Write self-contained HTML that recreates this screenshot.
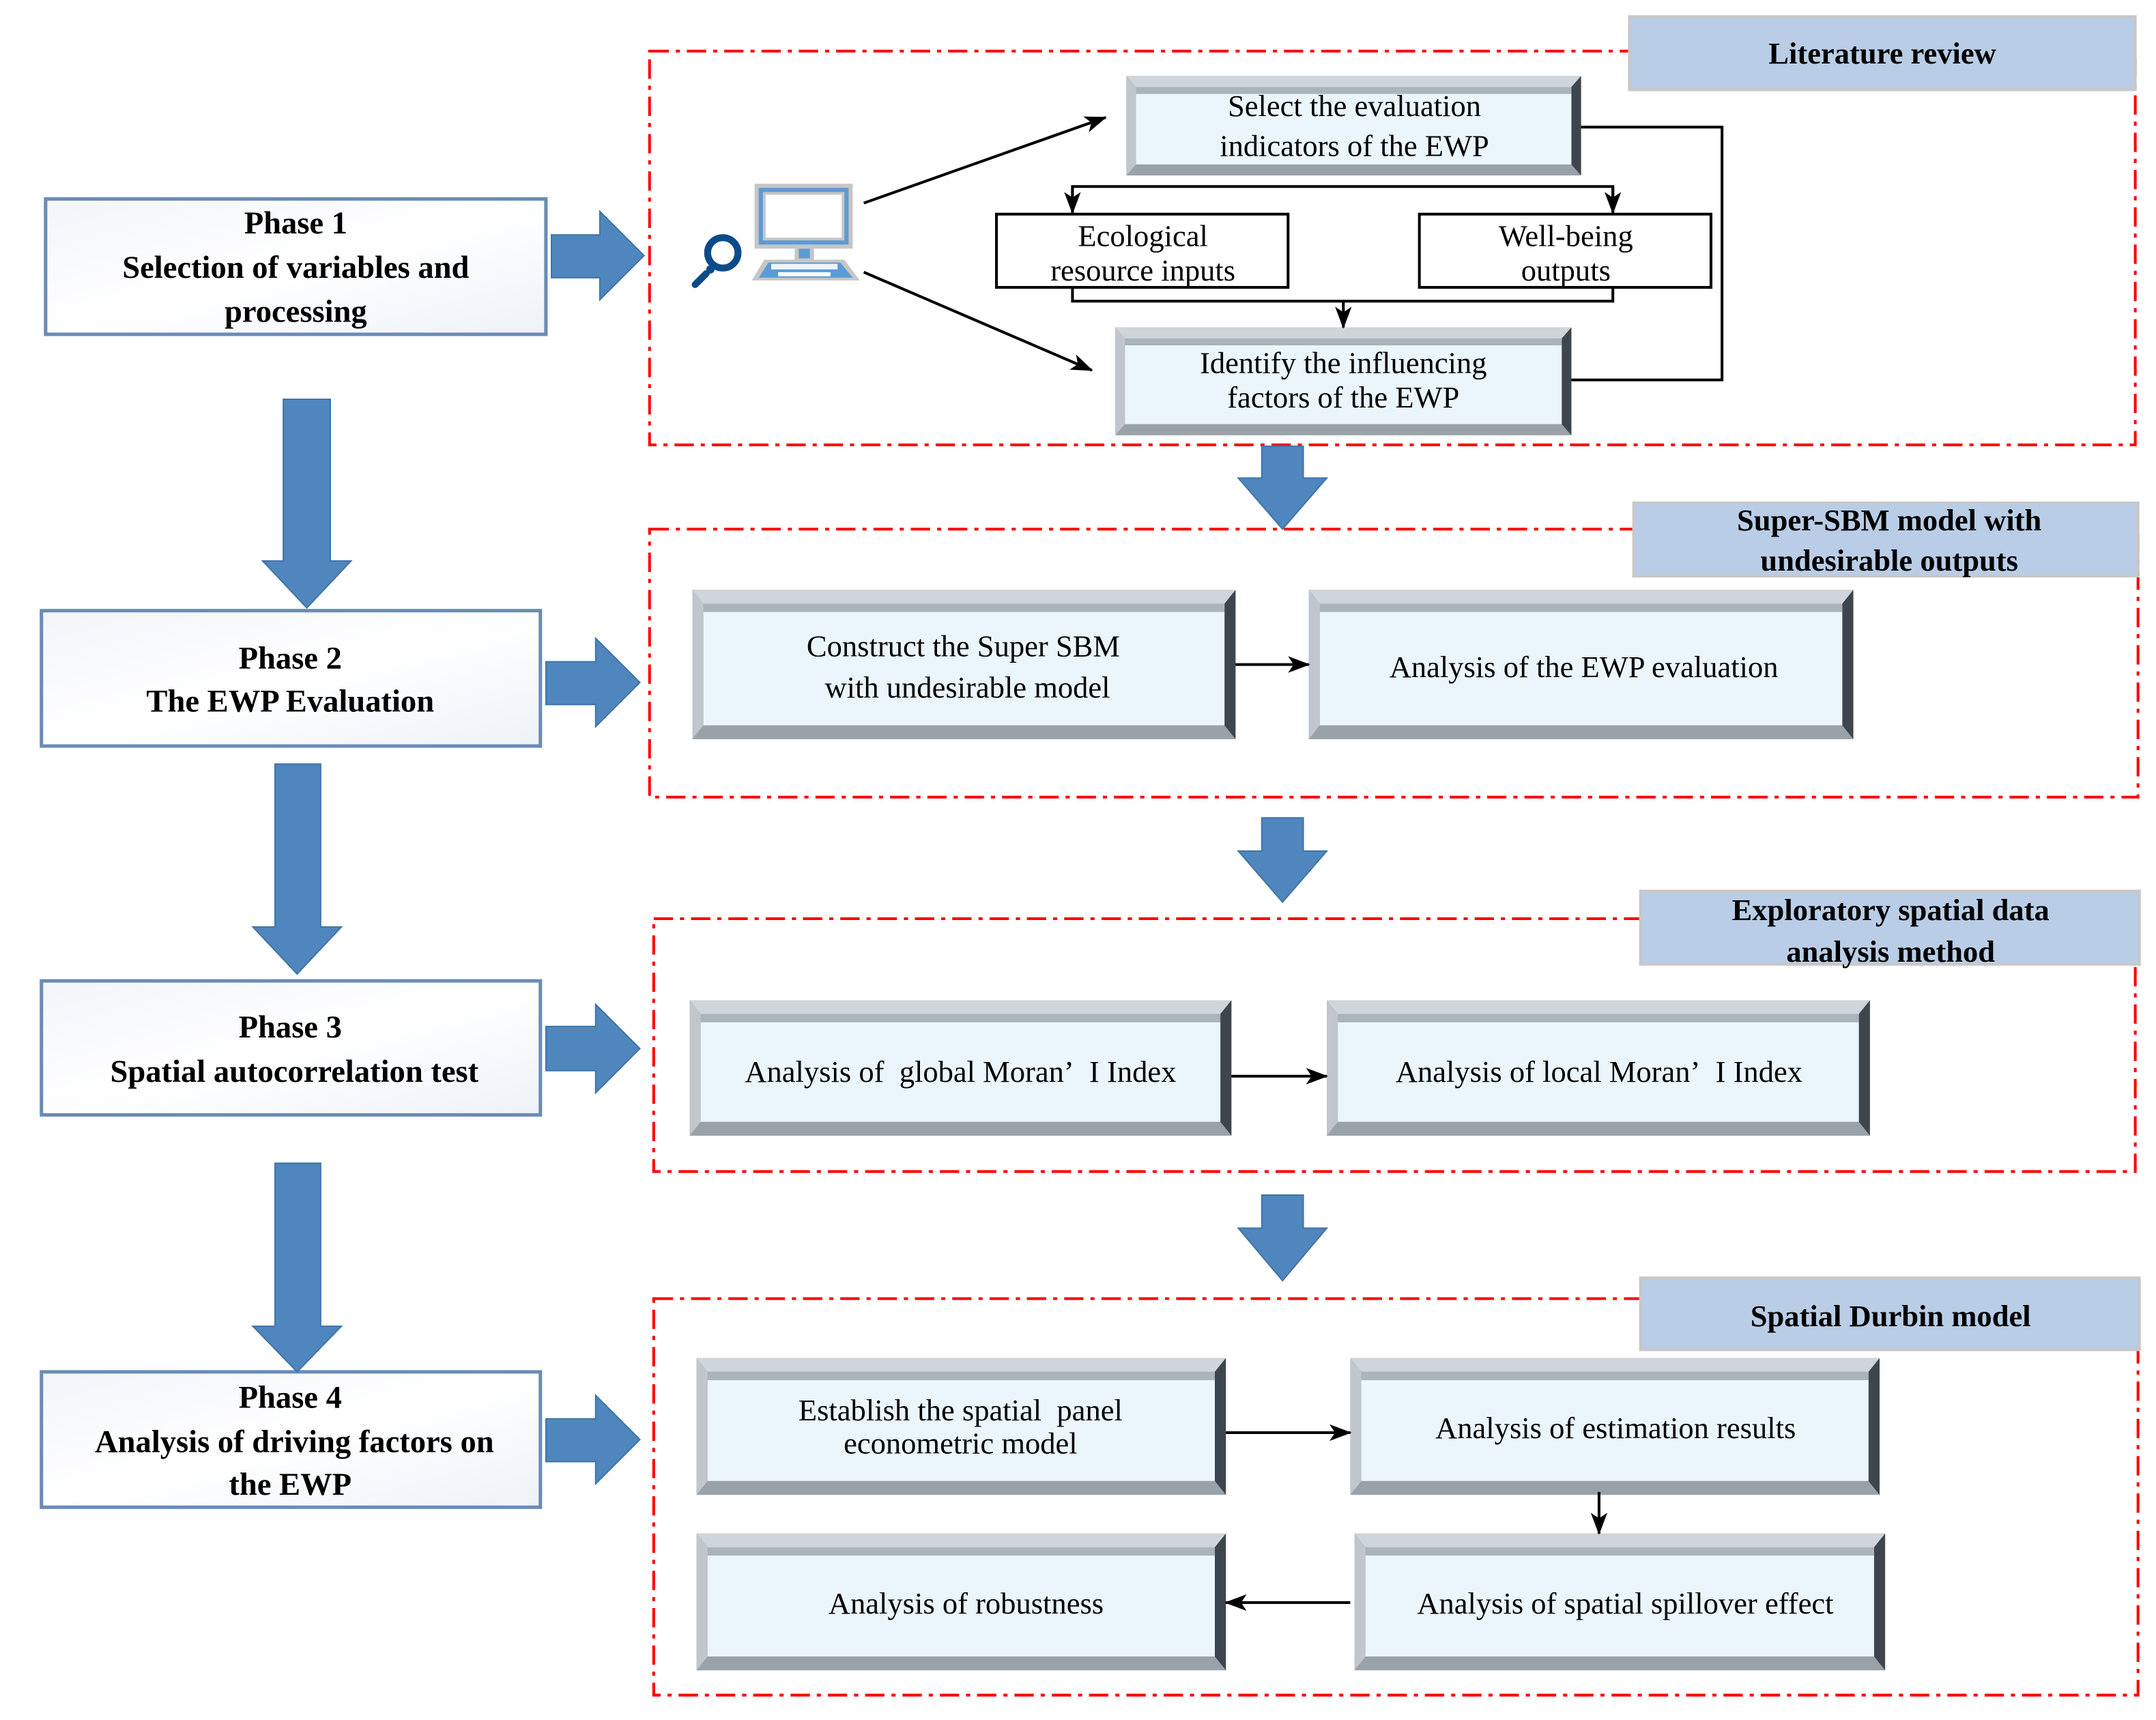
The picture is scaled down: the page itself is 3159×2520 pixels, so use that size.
<!DOCTYPE html>
<html><head><meta charset="utf-8"><style>
html,body{margin:0;padding:0;background:#fff;}
svg{display:block;}
text{font-family:"Liberation Serif",serif;fill:#000;}
.b{font-weight:bold;}
</style></head><body>
<svg width="3159" height="2520" viewBox="0 0 1560 1245" preserveAspectRatio="none" xmlns="http://www.w3.org/2000/svg">
<defs>
<linearGradient id="ph" x1="0" y1="0" x2="1" y2="1"><stop offset="0" stop-color="#f3f5f9"/><stop offset="0.5" stop-color="#ffffff"/><stop offset="1" stop-color="#eef2f8"/></linearGradient>
<marker id="ar" markerWidth="10" markerHeight="10" refX="9" refY="5" orient="auto" markerUnits="userSpaceOnUse"><path d="M0,0 L10,5 L0,10 L3,5 z" fill="#000"/></marker>
<marker id="ar2" markerWidth="16" markerHeight="12" refX="15" refY="6" orient="auto" markerUnits="userSpaceOnUse"><path d="M0,0 L16,6 L0,12 L4,6 z" fill="#000"/></marker>
<g id="dummy"></g>
</defs>

<!-- red dash-dot boxes -->
<g fill="none" stroke="#f00" stroke-width="2" stroke-dasharray="14 5 3 5">
<rect x="470" y="37" width="1075" height="285"/>
<rect x="470" y="383" width="1077" height="194"/>
<rect x="473" y="665" width="1072" height="183"/>
<rect x="473" y="940" width="1074" height="287"/>
</g>

<!-- labels -->
<g fill="#b9cde6" stroke="#c8c8c8" stroke-width="2">
<rect x="1179" y="12" width="366" height="53"/>
<rect x="1182" y="364" width="365" height="53"/>
<rect x="1187" y="645" width="361" height="53"/>
<rect x="1187" y="925" width="361" height="52"/>
</g>
<g class="b" font-size="22" text-anchor="middle">
<text x="1362" y="46" class="b">Literature review</text>
<text x="1367" y="384" class="b">Super-SBM model with</text>
<text x="1367" y="413" class="b">undesirable outputs</text>
<text x="1368" y="666" class="b">Exploratory spatial data</text>
<text x="1368" y="696" class="b">analysis method</text>
<text x="1368" y="960" class="b">Spatial Durbin model</text>
</g>

<!-- phase boxes -->
<g fill="url(#ph)" stroke="#6a8cb5" stroke-width="2.5">
<rect x="33" y="144" width="362" height="98"/>
<rect x="30" y="442" width="361" height="98"/>
<rect x="30" y="710" width="361" height="97"/>
<rect x="30" y="993" width="361" height="98"/>
</g>
<g font-size="23" text-anchor="middle" class="b">
<text x="214" y="169" class="b">Phase 1</text>
<text x="214" y="201" class="b">Selection of variables and</text>
<text x="214" y="233" class="b">processing</text>
<text x="210" y="484" class="b">Phase 2</text>
<text x="210" y="515" class="b">The EWP Evaluation</text>
<text x="210" y="751" class="b">Phase 3</text>
<text x="213" y="783" class="b">Spatial autocorrelation test</text>
<text x="210" y="1019" class="b">Phase 4</text>
<text x="213" y="1051" class="b">Analysis of driving factors on</text>
<text x="210" y="1082" class="b">the EWP</text>
</g>

<!-- blue block arrows -->
<g fill="#4f86bd" stroke="#3f74a8" stroke-width="1">
<path d="M399,170 L434,170 L434,153 L466,185 L434,217 L434,201 L399,201 z"/>
<path d="M395,479 L431,479 L431,462 L463,494 L431,526 L431,510 L395,510 z"/>
<path d="M395,743 L431,743 L431,727 L463,759 L431,791 L431,775 L395,775 z"/>
<path d="M395,1027 L431,1027 L431,1010 L463,1042 L431,1074 L431,1058 L395,1058 z"/>
<path d="M205,289 L239,289 L239,406 L254,406 L222,440 L190,406 L205,406 z"/>
<path d="M199,553 L232,553 L232,671 L247,671 L215,705 L183,671 L199,671 z"/>
<path d="M199,842 L232,842 L232,960 L247,960 L215,993 L183,960 L199,960 z"/>
<path d="M913,323 L943,323 L943,346 L960,346 L928,383 L896,346 L913,346 z"/>
<path d="M913,592 L943,592 L943,616 L960,616 L928,653 L896,616 L913,616 z"/>
<path d="M913,865 L943,865 L943,889 L960,889 L928,927 L896,889 L913,889 z"/>
</g>

<!-- bevel boxes -->
<g id="bevels">
<!-- template drawn per box -->
</g>
<g>
<!-- function-like repeated groups -->
<g transform="translate(815,55)"><rect width="329" height="72" fill="#8c959d"/><polygon points="0,0 329,0 322,8 7,8" fill="#cfd5da"/><polygon points="0,72 329,72 322,64 7,64" fill="#9aa2a9"/><polygon points="329,0 329,72 322,64 322,8" fill="#3e464d"/><polygon points="0,0 0,72 7,64 7,8" fill="#c0c6cb"/><rect x="7" y="8" width="315" height="56" fill="#eaf6fc"/><rect x="7" y="8" width="315" height="5" fill="#7f8890" opacity="0.6"/></g>
<g transform="translate(807,237)"><rect width="330" height="78" fill="#8c959d"/><polygon points="0,0 330,0 323,8 7,8" fill="#cfd5da"/><polygon points="0,78 330,78 323,70 7,70" fill="#9aa2a9"/><polygon points="330,0 330,78 323,70 323,8" fill="#3e464d"/><polygon points="0,0 0,78 7,70 7,8" fill="#c0c6cb"/><rect x="7" y="8" width="316" height="62" fill="#eaf6fc"/><rect x="7" y="8" width="316" height="5" fill="#7f8890" opacity="0.6"/></g>
<g transform="translate(501,427)"><rect width="393" height="108" fill="#8c959d"/><polygon points="0,0 393,0 385,10 8,10" fill="#cfd5da"/><polygon points="0,108 393,108 385,98 8,98" fill="#9aa2a9"/><polygon points="393,0 393,108 385,98 385,10" fill="#3e464d"/><polygon points="0,0 0,108 8,98 8,10" fill="#c0c6cb"/><rect x="8" y="10" width="377" height="88" fill="#eaf6fc"/><rect x="8" y="10" width="377" height="6" fill="#7f8890" opacity="0.6"/></g>
<g transform="translate(947,427)"><rect width="394" height="108" fill="#8c959d"/><polygon points="0,0 394,0 386,10 8,10" fill="#cfd5da"/><polygon points="0,108 394,108 386,98 8,98" fill="#9aa2a9"/><polygon points="394,0 394,108 386,98 386,10" fill="#3e464d"/><polygon points="0,0 0,108 8,98 8,10" fill="#c0c6cb"/><rect x="8" y="10" width="378" height="88" fill="#eaf6fc"/><rect x="8" y="10" width="378" height="6" fill="#7f8890" opacity="0.6"/></g>
<g transform="translate(499,724)"><rect width="392" height="98" fill="#8c959d"/><polygon points="0,0 392,0 384,10 8,10" fill="#cfd5da"/><polygon points="0,98 392,98 384,88 8,88" fill="#9aa2a9"/><polygon points="392,0 392,98 384,88 384,10" fill="#3e464d"/><polygon points="0,0 0,98 8,88 8,10" fill="#c0c6cb"/><rect x="8" y="10" width="376" height="78" fill="#eaf6fc"/><rect x="8" y="10" width="376" height="6" fill="#7f8890" opacity="0.6"/></g>
<g transform="translate(960,724)"><rect width="393" height="98" fill="#8c959d"/><polygon points="0,0 393,0 385,10 8,10" fill="#cfd5da"/><polygon points="0,98 393,98 385,88 8,88" fill="#9aa2a9"/><polygon points="393,0 393,98 385,88 385,10" fill="#3e464d"/><polygon points="0,0 0,98 8,88 8,10" fill="#c0c6cb"/><rect x="8" y="10" width="377" height="78" fill="#eaf6fc"/><rect x="8" y="10" width="377" height="6" fill="#7f8890" opacity="0.6"/></g>
<g transform="translate(504,983)"><rect width="383" height="99" fill="#8c959d"/><polygon points="0,0 383,0 375,10 8,10" fill="#cfd5da"/><polygon points="0,99 383,99 375,89 8,89" fill="#9aa2a9"/><polygon points="383,0 383,99 375,89 375,10" fill="#3e464d"/><polygon points="0,0 0,99 8,89 8,10" fill="#c0c6cb"/><rect x="8" y="10" width="367" height="79" fill="#eaf6fc"/><rect x="8" y="10" width="367" height="6" fill="#7f8890" opacity="0.6"/></g>
<g transform="translate(977,983)"><rect width="383" height="99" fill="#8c959d"/><polygon points="0,0 383,0 375,10 8,10" fill="#cfd5da"/><polygon points="0,99 383,99 375,89 8,89" fill="#9aa2a9"/><polygon points="383,0 383,99 375,89 375,10" fill="#3e464d"/><polygon points="0,0 0,99 8,89 8,10" fill="#c0c6cb"/><rect x="8" y="10" width="367" height="79" fill="#eaf6fc"/><rect x="8" y="10" width="367" height="6" fill="#7f8890" opacity="0.6"/></g>
<g transform="translate(504,1110)"><rect width="383" height="99" fill="#8c959d"/><polygon points="0,0 383,0 375,10 8,10" fill="#cfd5da"/><polygon points="0,99 383,99 375,89 8,89" fill="#9aa2a9"/><polygon points="383,0 383,99 375,89 375,10" fill="#3e464d"/><polygon points="0,0 0,99 8,89 8,10" fill="#c0c6cb"/><rect x="8" y="10" width="367" height="79" fill="#eaf6fc"/><rect x="8" y="10" width="367" height="6" fill="#7f8890" opacity="0.6"/></g>
<g transform="translate(980,1110)"><rect width="384" height="99" fill="#8c959d"/><polygon points="0,0 384,0 376,10 8,10" fill="#cfd5da"/><polygon points="0,99 384,99 376,89 8,89" fill="#9aa2a9"/><polygon points="384,0 384,99 376,89 376,10" fill="#3e464d"/><polygon points="0,0 0,99 8,89 8,10" fill="#c0c6cb"/><rect x="8" y="10" width="368" height="79" fill="#eaf6fc"/><rect x="8" y="10" width="368" height="6" fill="#7f8890" opacity="0.6"/></g>
</g>

<!-- plain boxes -->
<g fill="#fff" stroke="#000" stroke-width="2">
<rect x="721" y="155" width="211" height="53"/>
<rect x="1027" y="155" width="211" height="53"/>
</g>

<!-- box text -->
<g font-size="22" text-anchor="middle">
<text x="980" y="84">Select the evaluation</text>
<text x="980" y="113">indicators of the EWP</text>
<text x="827" y="178">Ecological</text>
<text x="827" y="203">resource inputs</text>
<text x="1133" y="178">Well-being</text>
<text x="1133" y="203">outputs</text>
<text x="972" y="270">Identify the influencing</text>
<text x="972" y="295">factors of the EWP</text>
<text x="697" y="475">Construct the Super SBM</text>
<text x="700" y="505">with undesirable model</text>
<text x="1146" y="490">Analysis of the EWP evaluation</text>
<text x="695" y="783">Analysis of&#160; global Moran’&#160; I Index</text>
<text x="1157" y="783">Analysis of local Moran’&#160; I Index</text>
<text x="695" y="1028">Establish the spatial&#160; panel</text>
<text x="695" y="1052">econometric model</text>
<text x="1169" y="1041">Analysis of estimation results</text>
<text x="699" y="1168">Analysis of robustness</text>
<text x="1176" y="1168">Analysis of spatial spillover effect</text>
</g>

<!-- connectors -->
<g stroke="#000" stroke-width="2" fill="none">
<polyline points="1144,92 1246,92 1246,275 1137,275"/>
<polyline points="776,153 776,135 1167,135 1167,153" />
<polyline points="776,208 776,218 1167,218 1167,208"/>
<line x1="776" y1="136" x2="776" y2="154" marker-end="url(#ar2)"/>
<line x1="1167" y1="136" x2="1167" y2="154" marker-end="url(#ar2)"/>
<line x1="972" y1="218" x2="972" y2="237" marker-end="url(#ar2)"/>
<line x1="625" y1="147" x2="800" y2="85" marker-end="url(#ar2)"/>
<line x1="625" y1="197" x2="790" y2="268" marker-end="url(#ar2)"/>
<line x1="894" y1="481" x2="947" y2="481" marker-end="url(#ar2)"/>
<line x1="891" y1="779" x2="960" y2="779" marker-end="url(#ar2)"/>
<line x1="887" y1="1037" x2="977" y2="1037" marker-end="url(#ar2)"/>
<line x1="1157" y1="1080" x2="1157" y2="1110" marker-end="url(#ar2)"/>
<line x1="977" y1="1160" x2="887" y2="1160" marker-end="url(#ar2)"/>
</g>

<!-- computer icon -->
<g>
<rect x="546" y="133" width="71" height="47" fill="#c6c6c6"/>
<rect x="549" y="136" width="65" height="41" fill="#5b9bd5"/>
<rect x="552" y="139" width="59" height="35" fill="#c6c6c6"/>
<rect x="554" y="141" width="55" height="31" fill="#fff"/>
<rect x="575" y="180" width="14" height="8" fill="#c6c6c6"/>
<rect x="578" y="180" width="8" height="7" fill="#5b9bd5"/>
<polygon points="553,188 611,188 622,203 544,203" fill="#c6c6c6"/>
<polygon points="556,190 608,190 617,201 549,201" fill="#5b9bd5"/>
<rect x="563" y="197" width="38" height="3" fill="#fff"/>
<rect x="558" y="191" width="48" height="4" fill="#fff" opacity="0.9"/>
<circle cx="523" cy="183" r="11" fill="none" stroke="#0b4b8a" stroke-width="5"/>
<circle cx="523" cy="183" r="7" fill="none" stroke="#fff" stroke-width="1"/>
<circle cx="514" cy="195" r="3" fill="#0b4b8a"/>
<line x1="511" y1="198" x2="503" y2="206" stroke="#0b4b8a" stroke-width="5" stroke-linecap="round"/>
</g>
</svg>
</body></html>
